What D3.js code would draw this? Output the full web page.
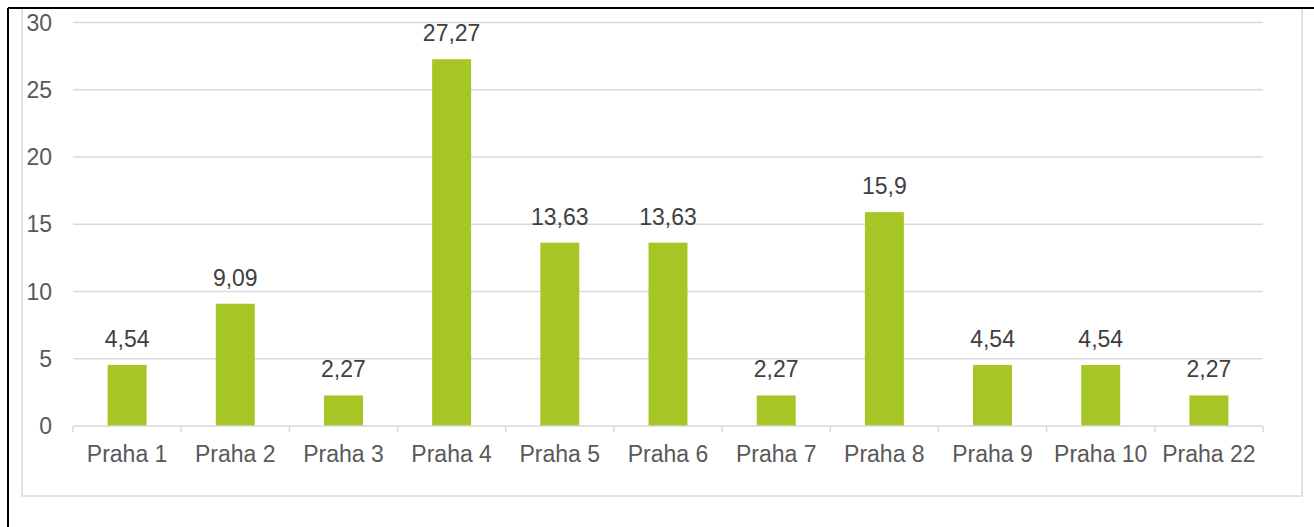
<!DOCTYPE html>
<html><head><meta charset="utf-8">
<script src="https://cdn.jsdelivr.net/npm/d3@7"></script>
<style>body{margin:0;background:#fff;}svg{display:block;font-family:"Liberation Sans",Arial,sans-serif;}</style>
</head><body><svg id="c" width="1314" height="527"></svg>
<script>
const categories = ["Praha 1","Praha 2","Praha 3","Praha 4","Praha 5","Praha 6","Praha 7","Praha 8","Praha 9","Praha 10","Praha 22"];
const values = [4.54, 9.09, 2.27, 27.27, 13.63, 13.63, 2.27, 15.9, 4.54, 4.54, 2.27];
const labels = ["4,54","9,09","2,27","27,27","13,63","13,63","2,27","15,9","4,54","4,54","2,27"];
const yTicks = [0,5,10,15,20,25,30];

const svg = d3.select("#c");
// frame
svg.append("rect").attr("x",22).attr("y",8).attr("width",1280).attr("height",488).attr("fill","none").attr("stroke","#d9d9d9").attr("stroke-width",1.5);
svg.append("line").attr("x1",8).attr("x2",1314).attr("y1",8).attr("y2",8).attr("stroke","#000").attr("stroke-width",2);
svg.append("line").attr("x1",8).attr("x2",8).attr("y1",8).attr("y2",527).attr("stroke","#000").attr("stroke-width",2);

const x = d3.scaleBand().domain(categories).range([73,1263]).paddingInner(0.64).paddingOuter(0.32);
const y = d3.scaleLinear().domain([0,30]).range([426,22.5]);

// gridlines
svg.append("g").selectAll("line").data(yTicks.filter(d=>d>0)).join("line")
  .attr("x1",73).attr("x2",1263).attr("y1",d=>y(d)).attr("y2",d=>y(d))
  .attr("stroke","#d9d9d9").attr("stroke-width",1.5);

// y labels
svg.append("g").selectAll("text").data(yTicks).join("text")
  .attr("x",52).attr("y",d=>y(d)+8).attr("text-anchor","end")
  .attr("font-size",23).attr("fill","#595959").text(d=>d);

// bars
svg.append("g").selectAll("rect").data(values).join("rect")
  .attr("x",(d,i)=>x(categories[i])).attr("width",x.bandwidth())
  .attr("y",d=>y(d)).attr("height",d=>y(0)-y(d)).attr("fill","#a5c625");

// x axis
const bounds = d3.range(categories.length+1).map(i=>73+i*(1190/categories.length));
svg.append("line").attr("x1",73).attr("x2",1263).attr("y1",y(0)).attr("y2",y(0)).attr("stroke","#d9d9d9").attr("stroke-width",1.5);
svg.append("g").selectAll("line").data(bounds).join("line")
  .attr("x1",d=>d).attr("x2",d=>d).attr("y1",y(0)).attr("y2",y(0)+6).attr("stroke","#d9d9d9").attr("stroke-width",1.5);

svg.append("g").selectAll("text").data(categories).join("text")
  .attr("x",d=>x(d)+x.bandwidth()/2).attr("y",462).attr("text-anchor","middle")
  .attr("font-size",23).attr("fill","#595959").text(d=>d);

// data labels
svg.append("g").selectAll("text").data(values).join("text")
  .attr("x",(d,i)=>x(categories[i])+x.bandwidth()/2).attr("y",d=>y(d)-18).attr("text-anchor","middle")
  .attr("font-size",23).attr("fill","#404040").text((d,i)=>labels[i]);
</script></body></html>
